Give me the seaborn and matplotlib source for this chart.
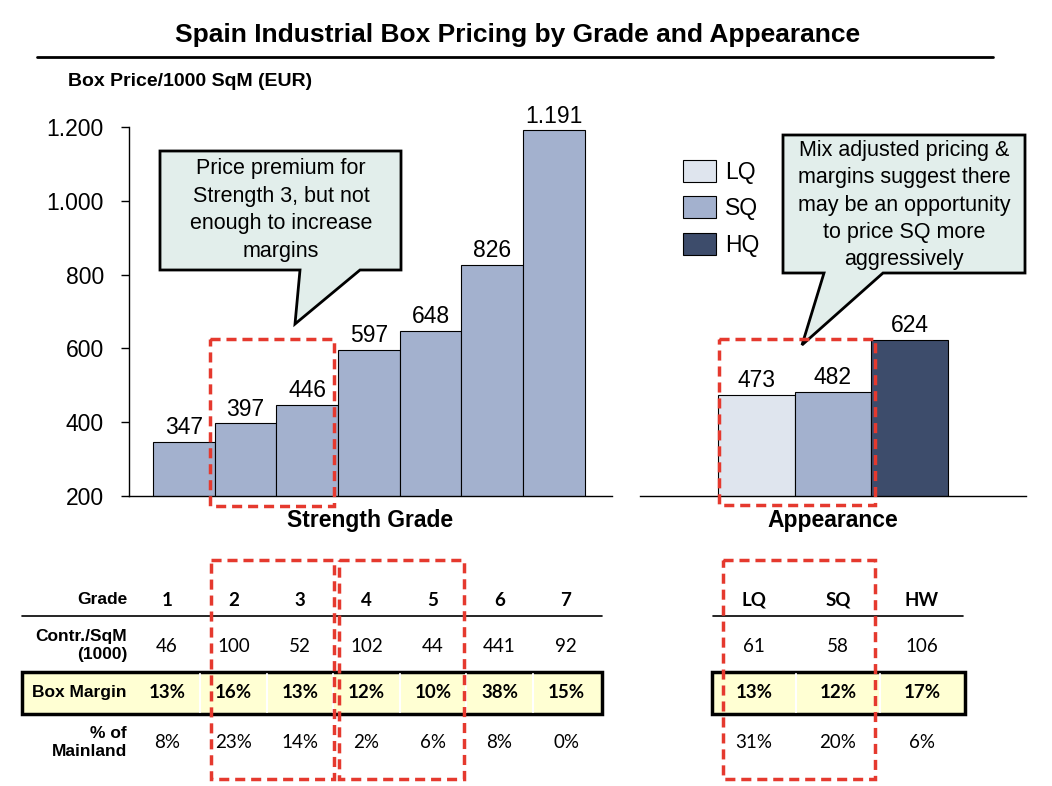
import matplotlib
matplotlib.use("Agg")
import matplotlib.pyplot as plt
import seaborn as sns
from matplotlib.patches import Patch, Polygon, Rectangle
from matplotlib.ticker import FuncFormatter

# --- data ---
grades = ["1", "2", "3", "4", "5", "6", "7"]
grade_price = [347, 397, 446, 597, 648, 826, 1191]
looks = ["LQ", "SQ", "HQ"]
look_price = [473, 482, 624]
look_colors = ["#DFE5EE", "#A3B1CE", "#3D4C6B"]
bar_color = "#A3B1CE"

row_labels = ["Grade", "Contr./SqM\n(1000)", "Box Margin", "% of\nMainland"]
contr_grade = ["46", "100", "52", "102", "44", "441", "92"]
margin_grade = ["13%", "16%", "13%", "12%", "10%", "38%", "15%"]
mainland_grade = ["8%", "23%", "14%", "2%", "6%", "8%", "0%"]
look_head = ["LQ", "SQ", "HW"]
contr_look = ["61", "58", "106"]
margin_look = ["13%", "12%", "17%"]
mainland_look = ["31%", "20%", "6%"]

W, H = 1052, 786
sns.set_theme(style="white")
plt.rcParams["font.family"] = ["Liberation Sans", "DejaVu Sans"]
plt.rcParams["text.color"] = "black"
plt.rcParams["axes.labelcolor"] = "black"
plt.rcParams["xtick.color"] = "black"
plt.rcParams["ytick.color"] = "black"

def dots(v):
    return f"{int(v):,}".replace(",", ".")

fig = plt.figure(figsize=(W / 100, H / 100), dpi=100)
fig.patch.set_facecolor("white")

# left chart: strength grade
ax1 = fig.add_axes([129 / W, 1 - 496 / H, (612 - 129) / W, (496 - 127) / H])
sns.barplot(x=grades, y=grade_price, color=bar_color, width=1, saturation=1,
            edgecolor="black", linewidth=0.8, ax=ax1)
ax1.set_ylim(200, 1200)
ax1.set_xlim(-0.89, 6.94)
ax1.set_yticks(range(200, 1201, 200))
ax1.yaxis.set_major_formatter(FuncFormatter(lambda v, p: dots(v)))
ax1.set_xticks([])
ax1.tick_params(axis="y", left=True, length=6, width=1, color="black", labelsize=16.5, pad=12)
ax1.set_ylabel("")
ax1.set_xlabel("Strength Grade", fontsize=16.5, fontweight="bold", labelpad=9)
for s in ["top", "right"]:
    ax1.spines[s].set_visible(False)
for s in ["left", "bottom"]:
    ax1.spines[s].set_color("black")
    ax1.spines[s].set_linewidth(1)
ax1.bar_label(ax1.containers[0], labels=[dots(v) for v in grade_price], fontsize=16.5, padding=2)
ax1.set_facecolor("none")

# right chart: appearance
ax2 = fig.add_axes([640 / W, 1 - 496 / H, (1026 - 640) / W, (496 - 127) / H])
sns.barplot(x=looks, y=look_price, hue=looks, palette=look_colors, width=1, saturation=1,
            edgecolor="black", linewidth=0.8, legend=False, ax=ax2)
ax2.set_ylim(200, 1200)
ax2.set_xlim(-1.52, 3.52)
ax2.set_xticks([])
ax2.set_yticks([])
ax2.set_ylabel("")
ax2.set_xlabel("Appearance", fontsize=16.5, fontweight="bold", labelpad=9)
for s in ["top", "right", "left"]:
    ax2.spines[s].set_visible(False)
ax2.spines["bottom"].set_color("black")
ax2.spines["bottom"].set_linewidth(1)
for cont, v in zip(ax2.containers, look_price):
    ax2.bar_label(cont, labels=[dots(v)], fontsize=16.5, padding=2)
ax2.set_facecolor("none")

handles = [Patch(facecolor=c, edgecolor="black", linewidth=0.8) for c in look_colors]
fig.legend(handles, looks, loc="upper left", bbox_to_anchor=(683 / W, 1 - 160 / H),
           frameon=False, fontsize=16.5, handlelength=1.45, handleheight=1.1,
           handletextpad=0.4, labelspacing=0.55, borderpad=0, borderaxespad=0)

# titles
fig.text(518 / W, 1 - 35 / H, "Spain Industrial Box Pricing by Grade and Appearance",
         ha="center", va="center", fontsize=19, fontweight="bold")
fig.text(68 / W, 1 - 81 / H, "Box Price/1000 SqM (EUR)", ha="left", va="center",
         fontsize=14, fontweight="bold")

# overlay in pixel coordinates for callouts, boxes and the table
ov = fig.add_axes([0, 0, 1, 1], zorder=5)
ov.set_xlim(0, W)
ov.set_ylim(H, 0)
ov.axis("off")

ov.plot([37, 993], [57, 57], color="black", lw=2)

callout_fc = "#E2EEEB"
ov.add_patch(Polygon([(160, 151), (401, 151), (401, 270), (360, 270), (295, 324),
                      (300, 270), (160, 270)], closed=True, fc=callout_fc, ec="black",
                     lw=2, joinstyle="miter"))
ov.text(281, 210, "Price premium for\nStrength 3, but not\nenough to increase\nmargins",
        ha="center", va="center", fontsize=15.5, linespacing=1.4)
ov.add_patch(Polygon([(783, 135), (1025, 135), (1025, 273), (883, 273), (802, 345),
                      (824, 273), (783, 273)], closed=True, fc=callout_fc, ec="black",
                     lw=2, joinstyle="miter"))
ov.text(904, 205, "Mix adjusted pricing &\nmargins suggest there\nmay be an opportunity\n"
        "to price SQ more\naggressively",
        ha="center", va="center", fontsize=15.5, linespacing=1.4)

# table
row_y = [600, 646, 693, 743]
gx = [167 + 66.5 * i for i in range(len(grades))]
lx = [754 + 84 * i for i in range(len(looks))]
tab_font = ["Lato", "DejaVu Sans"]

ov.add_patch(Rectangle((22, 672), 580, 42, fc="#FFFFD3", ec="black", lw=2.5, zorder=1))
ov.add_patch(Rectangle((712, 672), 253, 42, fc="#FFFFD3", ec="black", lw=2.5, zorder=1))
for x in gx[:-1]:
    ov.plot([x + 33.25, x + 33.25], [674, 712], color="white", lw=1.5, zorder=2)
for x in lx[:-1]:
    ov.plot([x + 42, x + 42], [674, 712], color="white", lw=1.5, zorder=2)
ov.plot([22, 602], [616, 616], color="black", lw=1.2)
ov.plot([713, 963], [616, 616], color="black", lw=1.2)

for lab, y in zip(row_labels, row_y):
    ov.text(127, y, lab, ha="right", va="center", fontsize=12.5, fontweight="bold",
            linespacing=1.25, zorder=3)

rows_g = [grades, contr_grade, margin_grade, mainland_grade]
rows_l = [look_head, contr_look, margin_look, mainland_look]
weights = ["bold", "normal", "bold", "normal"]
for vals, y, wt in zip(rows_g, row_y, weights):
    for x, t in zip(gx, vals):
        ov.text(x, y, t, ha="center", va="center", fontsize=13.5, fontweight=wt,
                family=tab_font, zorder=3)
for vals, y, wt in zip(rows_l, row_y, weights):
    for x, t in zip(lx, vals):
        ov.text(x, y, t, ha="center", va="center", fontsize=13.5, fontweight=wt,
                family=tab_font, zorder=3)

# red dashed highlight boxes
red = "#E5392E"
dash = (0, (2.9, 1.7))
for (x0, y0, x1, y1) in [(210, 339, 334, 506), (719, 339, 875, 505),
                         (211, 560, 334, 779), (339, 560, 464, 779), (723, 560, 875, 779)]:
    ov.add_patch(Rectangle((x0, y0), x1 - x0, y1 - y0, fill=False, ec=red, lw=2.5,
                           ls=dash, zorder=4))

fig.savefig("out.png", dpi=100)
